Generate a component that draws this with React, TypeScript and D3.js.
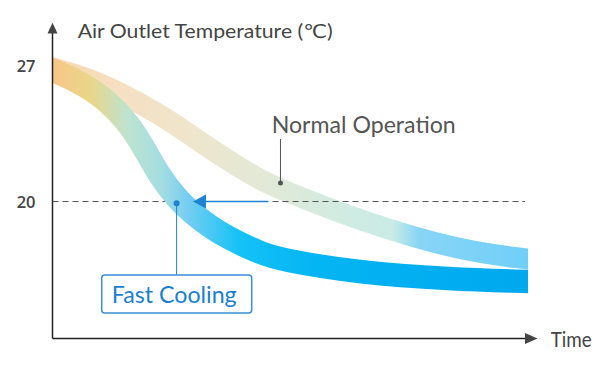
import React from "react";
import * as d3 from "d3";

// Time in relative units (0..100), temperature in °C
const fastTimes = [0, 8.52, 15.67, 19.03, 22.6, 26.18, 29.55, 33.12, 36.7, 43.64, 47.84, 64.67, 83.6, 100];
const fastTemps = [26.77, 25.84, 24.19, 22.86, 21.26, 20.15, 19.36, 18.71, 18.15, 17.35, 17.01, 16.32, 16.01, 15.88];
const normalTimes = [0, 6.83, 13.56, 22.6, 29.55, 36.7, 43.64, 47.84, 64.67, 85.7, 100];
const normalTemps = [26.87, 26.41, 25.69, 24.5, 23.32, 22.14, 21.11, 20.64, 19.0, 17.45, 17.04];
const yTicks = [27, 20];
const targetTemp = 20;
const yAxisTitle = "Air Outlet Temperature (℃)";
const xAxisTitle = "Time";
const normalLabel = "Normal Operation";
const fastLabel = "Fast Cooling";
const fastMarkTime = 26.1; // where fast cooling reaches 20°C
const normalMarkTime = 47.84;

const W = 608;
const H = 366;
const X0 = 52.5;
const X1 = 528;
const AXIS_Y = 338.5;

function interp(ts: number[], vs: number[], t: number) {
  const i = Math.max(0, d3.bisectRight(ts, t) - 1);
  const j = Math.min(i + 1, ts.length - 1);
  const f = (t - ts[i]) / (ts[j] - ts[i] || 1);
  return vs[i] + f * (vs[j] - vs[i]);
}

export default function App() {
  const x = d3.scaleLinear().domain([0, 100]).range([X0, X1]);
  const y = d3.scaleLinear().domain([20, 27]).range([201.5, 65.5]);

  const line = d3
    .line<[number, number]>()
    .x((d) => x(d[0]))
    .y((d) => y(d[1]))
    .curve(d3.curveBasis);

  const fastData: [number, number][] = fastTimes.map((t, i) => [t, fastTemps[i]]);
  const normalData: [number, number][] = normalTimes.map((t, i) => [t, normalTemps[i]]);

  const yT = y(targetTemp);
  const fdx = x(fastMarkTime);
  const fdy = yT + 1.8;
  const ndx = x(normalMarkTime) + 0.5;
  const ndy = y(interp(normalTimes, normalTemps, normalMarkTime)) - 6;

  const font = "Lato, 'Open Sans', 'DejaVu Sans', sans-serif";
  const blue = "#1f82d2";

  return (
    <svg
      width={W}
      height={H}
      style={{ position: "absolute", left: 0, top: 0, background: "#fff" }}
    >
      <defs>
        <clipPath id="plotClip">
          <rect x={X0} y={0} width={X1 - X0} height={H} />
        </clipPath>
        <linearGradient id="gFast" gradientUnits="userSpaceOnUse" x1={X0} x2={X1} y1={0} y2={0}>
          <stop offset="0" stopColor="#f7c688" />
          <stop offset="0.08" stopColor="#e9d689" />
          <stop offset="0.16" stopColor="#bde3d1" />
          <stop offset="0.23" stopColor="#a4dde2" />
          <stop offset="0.28" stopColor="#78cff0" />
          <stop offset="0.39" stopColor="#16c2f7" />
          <stop offset="0.55" stopColor="#04b5f3" />
          <stop offset="1" stopColor="#00a8ee" />
        </linearGradient>
        <linearGradient id="gNormal" gradientUnits="userSpaceOnUse" x1={X0} x2={X1} y1={0} y2={0}>
          <stop offset="0" stopColor="#f9d8ae" />
          <stop offset="0.15" stopColor="#f5e0c3" />
          <stop offset="0.3" stopColor="#eee6cd" />
          <stop offset="0.48" stopColor="#dfead9" />
          <stop offset="0.62" stopColor="#cfebe2" />
          <stop offset="0.715" stopColor="#cbebe6" />
          <stop offset="0.77" stopColor="#88d5f6" />
          <stop offset="1" stopColor="#70cff8" />
        </linearGradient>
      </defs>

      {/* Normal operation band */}
      <g clipPath="url(#plotClip)">
        <path
          d={line(normalData) || ""}
          fill="none"
          stroke="url(#gNormal)"
          strokeWidth={21}
          strokeLinecap="square"
        />
      </g>

      {/* 20°C dashed reference */}
      <line
        x1={X0}
        x2={525}
        y1={yT}
        y2={yT}
        stroke="#555"
        strokeWidth={1}
        strokeDasharray="6 4"
      />

      {/* Fast cooling band */}
      <g clipPath="url(#plotClip)">
        <path
          d={line(fastData) || ""}
          fill="none"
          stroke="url(#gFast)"
          strokeWidth={23.5}
          strokeLinecap="square"
        />
      </g>

      {/* Blue arrow from normal to fast */}
      <line x1={204} x2={268} y1={yT} y2={yT} stroke={blue} strokeWidth={1.3} />
      <path d={`M${193},${yT} L${206},${yT - 7} L${206},${yT + 7} Z`} fill={blue} />

      {/* Fast cooling callout */}
      <line x1={fdx} x2={fdx} y1={fdy} y2={275} stroke={blue} strokeWidth={1} />
      <circle cx={fdx} cy={fdy} r={3} fill={blue} />
      <rect
        x={101.7}
        y={275}
        width={150}
        height={38}
        rx={3}
        fill="#fff"
        stroke="#3a8fd6"
        strokeWidth={1.5}
      />
      <text
        x={111.7}
        y={303}
        fontFamily={font}
        fontSize={24}
        fill="#1a7fcf"
        textLength={125}
        lengthAdjust="spacingAndGlyphs"
      >
        {fastLabel}
      </text>

      {/* Normal operation callout */}
      <line x1={ndx} x2={ndx} y1={139} y2={ndy} stroke="#555" strokeWidth={1} />
      <circle cx={ndx} cy={ndy} r={2.5} fill="#555" />
      <text
        x={271.7}
        y={133.3}
        fontFamily={font}
        fontSize={24}
        fill="#555"
        textLength={184}
        lengthAdjust="spacingAndGlyphs"
      >
        {normalLabel}
      </text>

      {/* Axes */}
      <line x1={X0} x2={X0} y1={33} y2={AXIS_Y} stroke="#222" strokeWidth={1.5} />
      <line x1={X0} x2={526} y1={AXIS_Y} y2={AXIS_Y} stroke="#222" strokeWidth={1.5} />
      <path d={`M${X0},22.7 L${X0 + 5},33.5 L${X0 - 5},33.5 Z`} fill="#444" />
      <path d={`M537.5,${AXIS_Y} L525,${AXIS_Y - 5.5} L525,${AXIS_Y + 5.5} Z`} fill="#444" />

      {/* Y ticks */}
      {yTicks.map((t) => (
        <text
          key={t}
          x={35.5}
          y={y(t) + 6.5}
          textAnchor="end"
          fontFamily="'Open Sans', Lato, sans-serif"
          fontWeight={600}
          fontSize={16.5}
          fill="#444"
        >
          {t}
        </text>
      ))}

      {/* Axis titles */}
      <text
        x={77.7}
        y={37.7}
        fontFamily={font}
        fontSize={19}
        fill="#444"
        textLength={255}
        lengthAdjust="spacingAndGlyphs"
      >
        {yAxisTitle}
      </text>
      <text
        x={550.7}
        y={347.3}
        fontFamily={font}
        fontSize={21}
        fill="#444"
        textLength={41}
        lengthAdjust="spacingAndGlyphs"
      >
        {xAxisTitle}
      </text>
    </svg>
  );
}
